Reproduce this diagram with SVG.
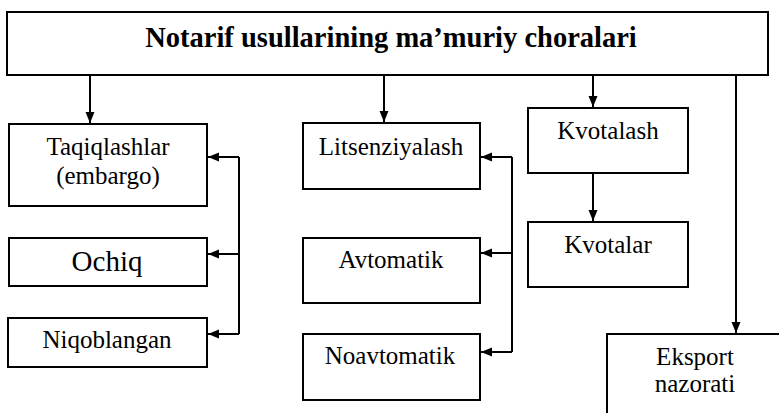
<svg xmlns="http://www.w3.org/2000/svg" width="779" height="413" viewBox="0 0 779 413">
<style>
.box{fill:#fff;stroke:#000;stroke-width:2}
.t{font-family:"Liberation Serif","Times New Roman",serif;font-size:25px;fill:#000;text-anchor:middle}
.title{font-weight:bold;font-size:28.5px}
.big{font-size:29px}
.c{fill:none;stroke:#000;stroke-width:2}
</style>
<defs>
<marker id="ah" markerUnits="userSpaceOnUse" markerWidth="12" markerHeight="12" viewBox="0 0 12 12" refX="11" refY="6" orient="auto">
<path d="M0,1.5 L11,6 L0,10.5 Z" fill="#000"/>
</marker>
</defs>
<rect width="779" height="413" fill="#fff"/>
<g id="title"><rect class="box" x="7" y="12" width="761" height="63"/><text class="t title" x="391" y="47">Notarif usullarining ma’muriy choralari</text></g>
<g id="taqiqlashlar"><rect class="box" x="9" y="124" width="198" height="82"/><text class="t" x="108" y="155">Taqiqlashlar</text><text class="t" x="108" y="184">(embargo)</text></g>
<g id="ochiq"><rect class="box" x="9" y="238" width="198" height="48"/><text class="t big" x="107" y="271">Ochiq</text></g>
<g id="niqoblangan"><rect class="box" x="8" y="318" width="199" height="49"/><text class="t" x="107" y="348">Niqoblangan</text></g>
<g id="litsenziyalash"><rect class="box" x="303" y="123" width="177" height="66"/><text class="t" x="391" y="155">Litsenziyalash</text></g>
<g id="avtomatik"><rect class="box" x="303" y="238" width="177" height="65"/><text class="t" x="391" y="268">Avtomatik</text></g>
<g id="noavtomatik"><rect class="box" x="303" y="334" width="177" height="66"/><text class="t" x="390" y="364">Noavtomatik</text></g>
<g id="kvotalash"><rect class="box" x="528" y="108" width="160" height="65"/><text class="t" x="608" y="139">Kvotalash</text></g>
<g id="kvotalar"><rect class="box" x="528" y="222" width="160" height="65"/><text class="t" x="608" y="253">Kvotalar</text></g>
<g id="eksport"><rect class="box" x="607" y="334" width="190" height="100"/><text class="t" x="695" y="365">Eksport</text><text class="t" x="695" y="392">nazorati</text></g>
<g id="connectors">
<path class="c" d="M90,75 V123" marker-end="url(#ah)"/>
<path class="c" d="M384,75 V122" marker-end="url(#ah)"/>
<path class="c" d="M593,75 V107" marker-end="url(#ah)"/>
<path class="c" d="M736,75 V333" marker-end="url(#ah)"/>
<path class="c" d="M593,173 V221" marker-end="url(#ah)"/>
<path class="c" d="M239,157 V334"/>
<path class="c" d="M239,157 H208" marker-end="url(#ah)"/>
<path class="c" d="M239,254 H208" marker-end="url(#ah)"/>
<path class="c" d="M239,334 H208" marker-end="url(#ah)"/>
<path class="c" d="M512,157 V352"/>
<path class="c" d="M512,157 H481" marker-end="url(#ah)"/>
<path class="c" d="M512,253 H481" marker-end="url(#ah)"/>
<path class="c" d="M512,352 H481" marker-end="url(#ah)"/>
</g>
</svg>
